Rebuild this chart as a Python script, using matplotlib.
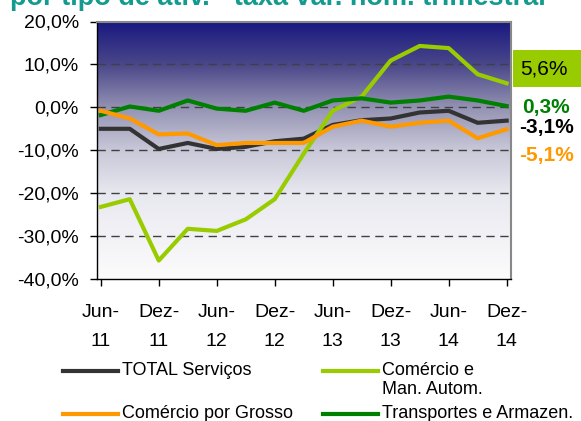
import matplotlib
matplotlib.use('Agg')
import matplotlib.pyplot as plt
import numpy as np
from matplotlib.colors import LinearSegmentedColormap
from matplotlib.lines import Line2D
from matplotlib.patches import Rectangle

plt.rcParams['font.family'] = ['Liberation Sans', 'DejaVu Sans']

# quarters Jun-11 .. Dez-14 (15 points), labels every second quarter
tick_labels = ['Jun-\n11', 'Dez-\n11', 'Jun-\n12', 'Dez-\n12',
               'Jun-\n13', 'Dez-\n13', 'Jun-\n14', 'Dez-\n14']

total_servicos = [-5.0, -5.0, -9.7, -8.3, -9.7, -9.2, -7.9, -7.3,
                  -4.1, -3.0, -2.6, -1.2, -0.8, -3.6, -3.1]
comercio_auto = [-23.2, -21.4, -35.7, -28.3, -28.8, -26.1, -21.4, -10.8,
                 -0.8, 2.5, 10.9, 14.3, 13.8, 7.7, 5.6]
comercio_grosso = [-0.8, -2.6, -6.3, -6.1, -8.8, -8.3, -8.3, -8.3,
                   -4.5, -3.1, -4.5, -3.6, -3.1, -7.2, -5.1]
transportes = [-1.8, 0.2, -0.8, 1.6, -0.3, -0.8, 1.1, -0.8,
               1.6, 2.1, 1.1, 1.6, 2.5, 1.6, 0.3]

C_TOTAL = '#333333'
C_AUTO = '#99cc00'
C_GROSSO = '#ff9900'
C_TRANSP = '#008000'

W, H = 581, 421
fig = plt.figure(figsize=(W / 100, H / 100), dpi=100)


def px(x, y):
    """pixel (from top-left) -> figure fraction"""
    return x / W, 1 - y / H


ax_l, ax_r, ax_t, ax_b = 97, 511, 21.5, 279
ax = fig.add_axes([ax_l / W, 1 - ax_b / H, (ax_r - ax_l) / W, (ax_b - ax_t) / H])

x = np.arange(len(total_servicos))
xmin, xmax = -0.13, 14.15
ymin, ymax = -40, 20

# background gradient, navy at the top fading to white
stops = [(0.0, (24, 24, 128)), (0.17, (75, 72, 138)), (0.34, (150, 148, 180)),
         (0.5, (200, 200, 216)), (0.67, (232, 232, 240)), (1.0, (252, 252, 252))]
cmap = LinearSegmentedColormap.from_list(
    'bg', [(p, tuple(c / 255 for c in rgb)) for p, rgb in stops])
grad = np.linspace(0, 1, 256).reshape(-1, 1)
ax.imshow(grad, cmap=cmap, aspect='auto', extent=[xmin, xmax, ymin, ymax],
          origin='upper', zorder=0, interpolation='bicubic')

for yv in [10, 0, -10, -20, -30]:
    ax.axhline(yv, color='#404040', lw=1, dashes=(6, 4), zorder=1)

lw = 3
ax.plot(x, total_servicos, color=C_TOTAL, lw=lw, zorder=3)
ax.plot(x, comercio_auto, color=C_AUTO, lw=lw, zorder=3)
ax.plot(x, comercio_grosso, color=C_GROSSO, lw=lw, zorder=4)
ax.plot(x, transportes, color=C_TRANSP, lw=lw, zorder=3)

ax.set_xlim(xmin, xmax)
ax.set_ylim(ymin, ymax)
ax.set_yticks(np.arange(-40, 21, 10))
ax.set_yticklabels([f'{v:.1f}%'.replace('.', ',') for v in np.arange(-40, 21, 10)])
ax.set_xticks(x[::2])
ax.set_xticklabels(tick_labels, linespacing=1.9)
ax.tick_params(axis='y', direction='out', length=5, width=1, pad=8, labelsize=14)
ax.tick_params(axis='x', direction='out', length=5, width=1, pad=13, labelsize=14)

for s in ['left', 'bottom']:
    ax.spines[s].set_color('black')
    ax.spines[s].set_linewidth(1)
for s in ['top', 'right']:
    ax.spines[s].set_color('#888888')
    ax.spines[s].set_linewidth(1.5)

# title (partially cut off at the top, as in the source)
fig.text(*px(10, 5), 'por tipo de ativ. - taxa var. hom. trimestral',
         color='#139b8f', fontsize=19.5, fontweight='bold', va='baseline', ha='left')

# end labels
fig.patches.append(Rectangle(px(513, 87), 80 / W, 37 / H, transform=fig.transFigure,
                             facecolor=C_AUTO, edgecolor='none'))
fig.text(*px(544, 69), '5,6%', fontsize=15, ha='center', va='center', color='black')
fig.text(*px(546, 107), '0,3%', fontsize=15, fontweight='bold', ha='center',
         va='center', color=C_TRANSP)
fig.text(*px(546, 128), '-3,1%', fontsize=15, fontweight='bold', ha='center',
         va='center', color='black')
fig.text(*px(546, 155), '-5,1%', fontsize=15, fontweight='bold', ha='center',
         va='center', color=C_GROSSO)

# legend (drawn by hand to match the two-column layout)
legend_items = [
    (63, 371, C_TOTAL, 'TOTAL Serviços'),
    (323, 371, C_AUTO, 'Comércio e\nMan. Autom.'),
    (63, 414, C_GROSSO, 'Comércio por Grosso'),
    (323, 414, C_TRANSP, 'Transportes e Armazen.'),
]
for lx, ly, col, lab in legend_items:
    x0, y0 = px(lx, ly)
    x1, _ = px(lx + 55, ly)
    fig.add_artist(Line2D([x0, x1], [y0, y0], color=col, lw=3,
                          transform=fig.transFigure))
    tx, ty = px(lx + 59, ly - 9)
    fig.text(tx, ty, lab, fontsize=13, ha='left', va='top', color='black',
             linespacing=1.15)

fig.savefig('out.png', dpi=100)
